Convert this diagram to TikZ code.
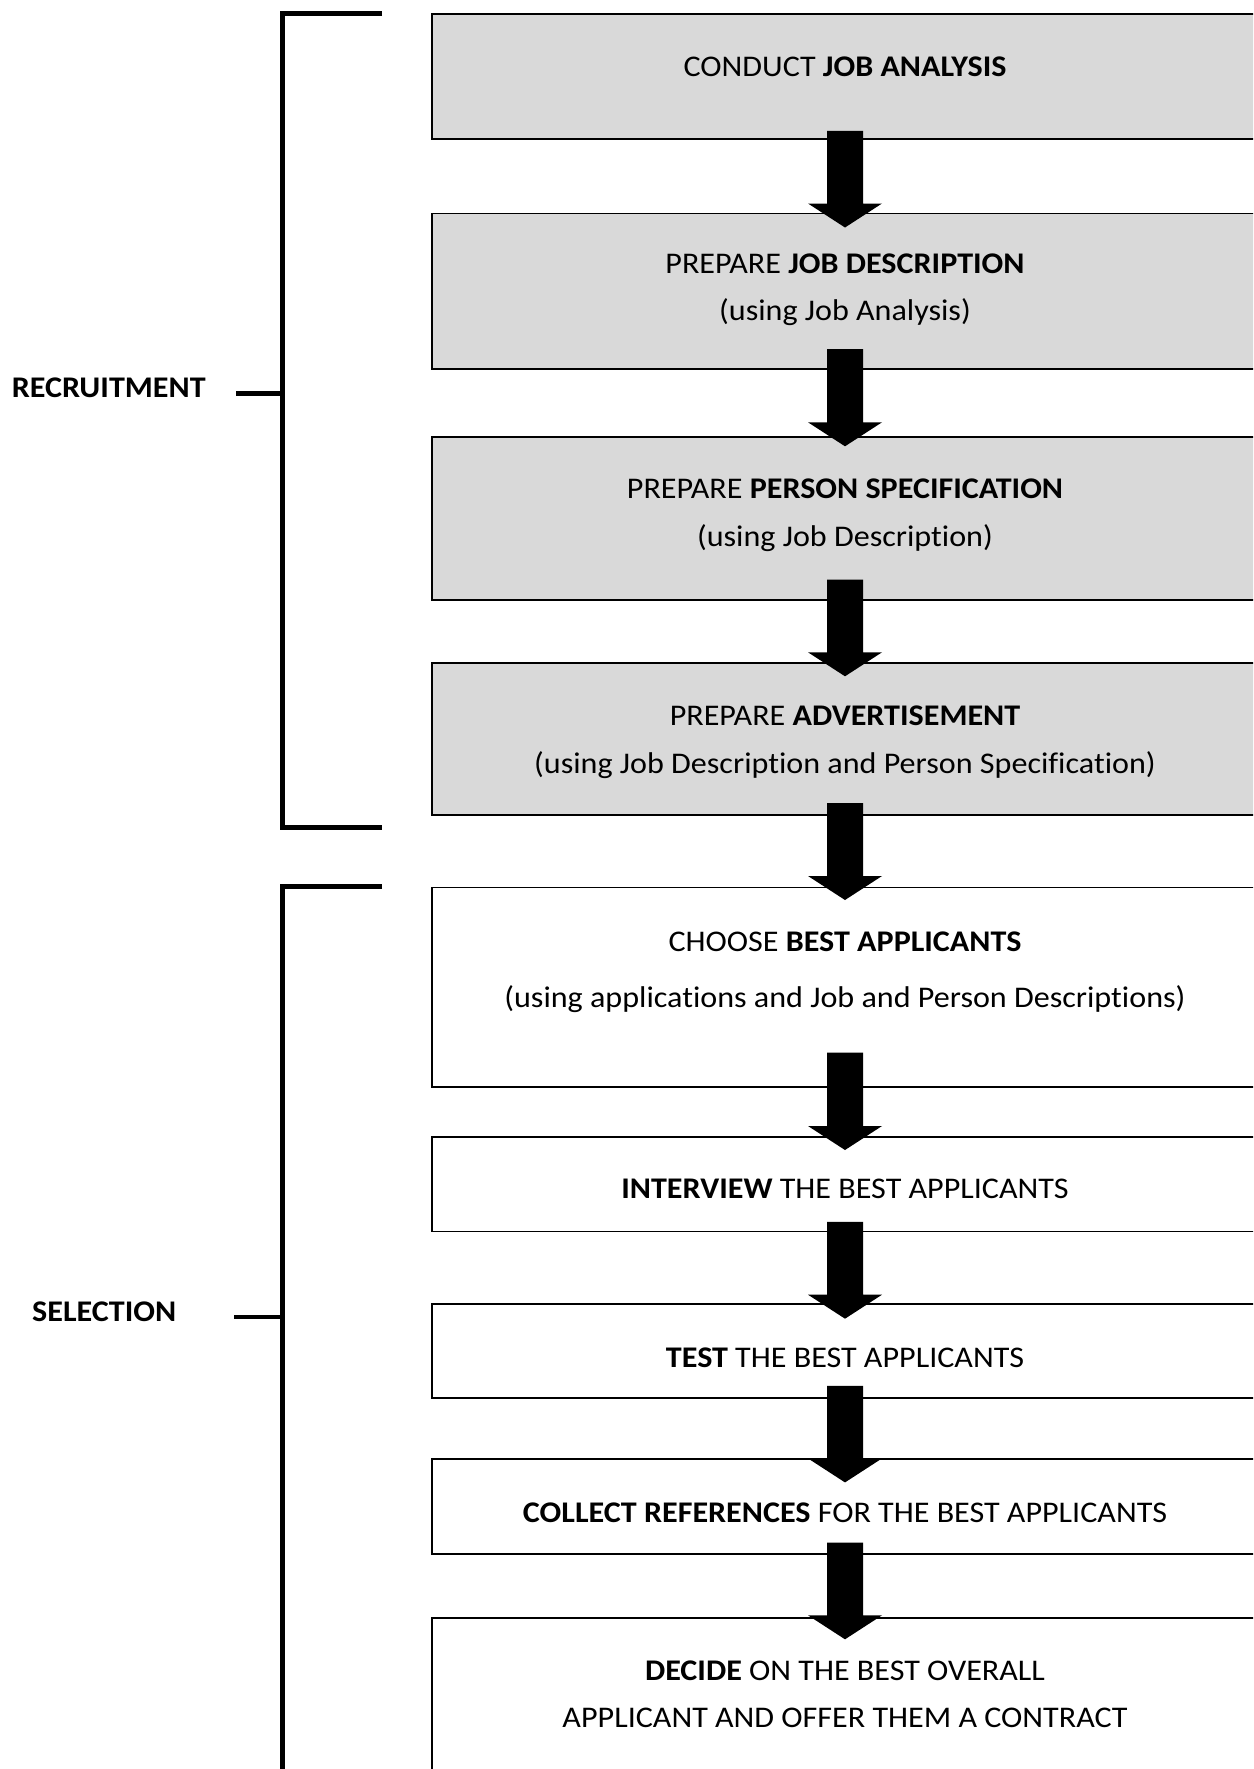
\documentclass[tikz,border=0pt]{standalone}
\usepackage{fontspec}
\setmainfont{Carlito}[FakeStretch=1.07, Ligatures=NoCommon]
\usetikzlibrary{calc}
\definecolor{boxgray}{HTML}{D9D9D9}
\tikzset{
  box/.style={draw=black, line width=1.8pt, rectangle, minimum width=826pt, inner sep=0pt, anchor=north},
  graybox/.style={box, fill=boxgray},
  whitebox/.style={box, fill=white},
  txt/.style={anchor=base, inner sep=0pt, font=\fontsize{30}{36}\selectfont},
  sidetxt/.style={anchor=base west, inner sep=0pt, font=\fontsize{30}{36}\selectfont\bfseries},
  brk/.style={line width=4.5pt},
}
\newcommand{\flowarrow}[4]{%
  \fill let \p1=(#1.south), \p2=(#2.north) in
   (\x1-18pt,\y1+#3pt) -- (\x1+18pt,\y1+#3pt) -- (\x1+18pt,\y2-#4pt+24pt) --
   (\x1+37pt,\y2-#4pt+24pt) -- (\x1,\y2-#4pt) -- (\x1-37pt,\y2-#4pt+24pt) --
   (\x1-18pt,\y2-#4pt+24pt) -- cycle;}
\begin{document}
\begin{tikzpicture}[x=1pt,y=-1pt]
\useasboundingbox (0,0) rectangle (1253,1769);
\clip (0,0) rectangle (1253,1769);
% boxes
\node[graybox, minimum height=124.5pt] (b1) at (845,13.5) {};
\node[graybox, minimum height=155.8pt] (b2) at (845,212.5) {};
\node[graybox, minimum height=162.5pt] (b3) at (845,436.3) {};
\node[graybox, minimum height=152pt] (b4) at (845,662.3) {};
\node[whitebox, minimum height=199.2pt] (b5) at (845,886.5) {};
\node[whitebox, minimum height=94.5pt] (b6) at (845,1136) {};
\node[whitebox, minimum height=94.3pt] (b7) at (845,1302.7) {};
\node[whitebox, minimum height=94.3pt] (b8) at (845,1458.4) {};
\node[whitebox, minimum height=180pt] (b9) at (845,1617.3) {};
% texts
\node[txt] (t1) at (845,76.7) {CONDUCT \textbf{JOB ANALYSIS}};
\node[txt] (t2a) at (845,273.3) {PREPARE \textbf{JOB DESCRIPTION}};
\node[txt] (t2b) at (845,320) {(using Job Analysis)};
\node[txt] (t3a) at (845,498.5) {PREPARE \textbf{PERSON SPECIFICATION}};
\node[txt] (t3b) at (845,546) {(using Job Description)};
\node[txt] (t4a) at (845,725) {PREPARE \textbf{ADVERTISEMENT}};
\node[txt] (t4b) at (845,773) {(using Job Description and Person Specification)};
\node[txt] (t5a) at (845,951) {CHOOSE \textbf{BEST APPLICANTS}};
\node[txt] (t5b) at (845,1007) {(using applications and Job and Person Descriptions)};
\node[txt] (t6) at (845,1198.3) {\textbf{INTERVIEW} THE BEST APPLICANTS};
\node[txt] (t7) at (845,1367) {\textbf{TEST} THE BEST APPLICANTS};
\node[txt] (t8) at (845,1522) {\textbf{COLLECT REFERENCES} FOR THE BEST APPLICANTS};
\node[txt] (t9a) at (845,1680) {\textbf{DECIDE} ON THE BEST OVERALL};
\node[txt] (t9b) at (845,1727) {APPLICANT AND OFFER THEM A CONTRACT};
\node[sidetxt] (rec) at (11.7,397.3) {RECRUITMENT};
\node[sidetxt] (sel) at (32,1321.5) {SELECTION};
% arrows
\flowarrow{b1}{b2}{9}{15}
\flowarrow{b2}{b3}{21}{10}
\flowarrow{b3}{b4}{21}{14}
\flowarrow{b4}{b5}{13}{13.5}
\flowarrow{b5}{b6}{35}{14}
\flowarrow{b6}{b7}{10.5}{16}
\flowarrow{b7}{b8}{13}{24}
\flowarrow{b8}{b9}{12}{22}
% brackets
\draw[brk] (382,13.5) -- (282.5,13.5) -- (282.5,827.7) -- (382,827.7);
\draw[brk] (236,393.7) -- (282.5,393.7);
\draw[brk] (382,886.5) -- (282.5,886.5) -- (282.5,1790);
\draw[brk] (234,1316.8) -- (282.5,1316.8);
\end{tikzpicture}
\end{document}
